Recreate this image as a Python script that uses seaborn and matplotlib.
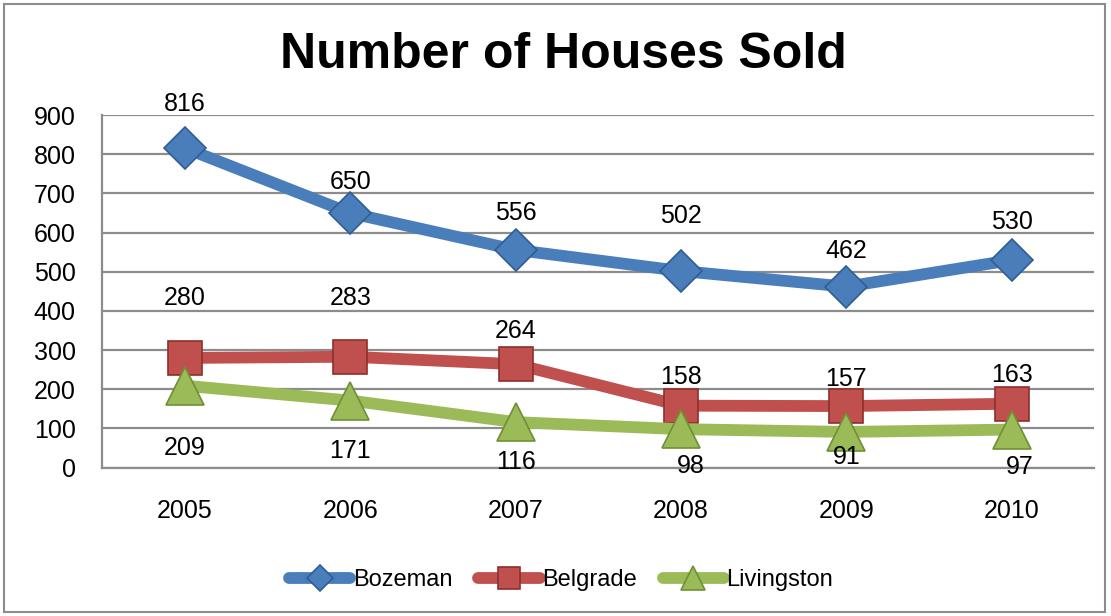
import pandas as pd
import seaborn as sns
import matplotlib.pyplot as plt

years = [2005, 2006, 2007, 2008, 2009, 2010]
bozeman = [816, 650, 556, 502, 462, 530]
belgrade = [280, 283, 264, 158, 157, 163]
livingston = [209, 171, 116, 98, 91, 97]
series_names = ["Bozeman", "Belgrade", "Livingston"]

# style per series: colour, marker edge, marker, marker size
styles = {
    "Bozeman": ("#4A7EBB", "#2E5E95", "D", 21),
    "Belgrade": ("#C0504D", "#8E2F2C", "s", 24),
    "Livingston": ("#9BBB59", "#6F8F35", "^", 27),
}
# label offsets in pixels (dx, dy), roughly where Excel put them
label_offsets = {
    "Bozeman": [(0, 44), (0, 31), (0, 37), (0, 55), (0, 36), (0, 38)],
    "Belgrade": [(0, 60), (0, 59), (0, 33), (0, 29), (0, 27), (0, 29)],
    "Livingston": [(0, -62), (0, -50), (0, -40), (10, -37), (0, -25), (8, -37)],
}

df = pd.DataFrame({
    "year": years * 3,
    "houses": bozeman + belgrade + livingston,
    "city": [n for n in series_names for _ in years],
})

sns.set_theme(style="white", rc={"text.color": "black", "xtick.color": "black",
                                 "ytick.color": "black", "axes.labelcolor": "black"})
plt.rcParams["font.family"] = ["Liberation Sans", "DejaVu Sans"]

fig = plt.figure(figsize=(11.11, 6.16), dpi=100)
ax = fig.add_axes([0.092, 0.241, 0.893, 0.572])

for name in series_names:
    color, edge, marker, msize = styles[name]
    sub = df[df["city"] == name]
    sns.lineplot(data=sub, x="year", y="houses", ax=ax, color=color,
                 linewidth=8.5, marker=marker, markersize=msize,
                 markerfacecolor=color, markeredgecolor=edge,
                 markeredgewidth=1.2, label=name, solid_capstyle="round")
    for (x, y), (dx, dy) in zip(zip(sub["year"], sub["houses"]), label_offsets[name]):
        ax.annotate(str(y), (x, y), xytext=(dx, dy), textcoords="offset pixels",
                    ha="center", va="center", fontsize=18, color="black")

ax.set_xlim(2004.5, 2010.5)
ax.set_ylim(0, 900)
ax.set_yticks(range(0, 901, 100))
ax.set_xticks(years)
ax.set_xticklabels([str(y) for y in years])
ax.tick_params(axis="y", labelsize=18, pad=19, length=0, labelcolor="black")
ax.tick_params(axis="x", labelsize=18, pad=23, length=0, labelcolor="black")
ax.set_xlabel("")
ax.set_ylabel("")
ax.grid(axis="y", color="#8C8C8C", linewidth=1.6)
ax.set_axisbelow(True)
for side in ["top", "right"]:
    ax.spines[side].set_visible(False)
for side in ["left", "bottom"]:
    ax.spines[side].set_color("#8C8C8C")
    ax.spines[side].set_linewidth(1.6)

ax.legend(loc="center", bbox_to_anchor=(0.505, 0.058), bbox_transform=fig.transFigure,
          ncol=3, frameon=False, fontsize=17, handlelength=2.6, markerscale=0.65,
          columnspacing=1.1, handletextpad=0.1, labelcolor="black")

fig.text(0.507, 0.91, "Number of Houses Sold", ha="center", va="center",
         fontsize=36, fontweight="bold", color="black")

fig.patches.append(plt.Rectangle((0.004, 0.006), 0.991, 0.987, transform=fig.transFigure,
                                 fill=False, edgecolor="#8C8C8C", linewidth=1.5))

fig.savefig("out.png", dpi=100)
